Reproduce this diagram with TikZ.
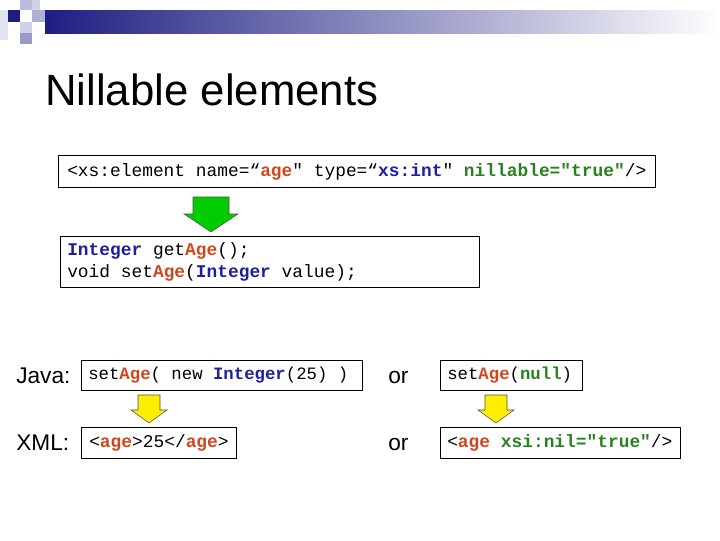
\documentclass[tikz,border=0pt]{standalone}
\usepackage{fontspec}
\setmainfont{Liberation Sans}
\setmonofont[WordSpace={1,0,0}]{Liberation Mono}
\usetikzlibrary{shapes.arrows}
\definecolor{navy}{RGB}{30,30,130}
\definecolor{ored}{RGB}{210,70,30}
\definecolor{kblue}{RGB}{30,30,160}
\definecolor{kgreen}{RGB}{40,130,30}
\newcommand{\rd}[1]{\textcolor{ored}{\textbf{#1}}}
\newcommand{\bl}[1]{\textcolor{kblue}{\textbf{#1}}}
\newcommand{\gr}[1]{\textcolor{kgreen}{\textbf{#1}}}
\tikzset{
 box/.style={draw, line width=0.6pt},
 code/.style={anchor=base west, inner sep=0pt, font=\ttfamily\fontsize{13.4}{16}\selectfont},
 codes/.style={code, font=\ttfamily\fontsize{13}{13}\selectfont},
 lbl/.style={font=\fontsize{17}{20}\selectfont, anchor=base west},
 garrow/.style={fill=green!80!black, draw=gray!60!black, line width=0.4pt},
 yarrow/.style={fill=yellow!95!orange, draw=gray!60!black, line width=0.4pt}
}
\begin{document}
\begin{tikzpicture}[x=0.75pt,y=-0.75pt]
\useasboundingbox (0,0) rectangle (720,540);
% banner
\shade[left color=navy, right color=white] (45,10) rectangle (720,33);
\fill[navy] (8,10) rectangle (20,22);
\fill[navy!30] (20,0) rectangle (32,10);
\fill[navy!20] (32,0) rectangle (40,10);
\fill[navy!35] (32,10) rectangle (45,22);
\fill[navy!20] (20,22) rectangle (32,33);
\fill[navy!45] (20,33) rectangle (32,44);
\fill[navy!12] (0,10) rectangle (8,40);
% title
\node[anchor=base west, font=\fontsize{32.8}{36}\selectfont, inner sep=0pt] (title) at (45,105) {Nillable elements};
% boxes
\draw[box] (58,155) rectangle (655,187);
\draw[box] (60,236) rectangle (479,287);
\draw[box] (81,360) rectangle (362,390);
\draw[box] (440,360) rectangle (582,390);
\draw[box] (81,427) rectangle (236,458);
\draw[box] (440,427) rectangle (680,458);
\node[code] (b1) at (67,176) {<xs:element name=“\rd{age}" type=“\bl{xs:int}" \gr{nillable="true"}/>};
\node[code] (b2a) at (67,255) {\bl{Integer} get\rd{Age}();};
\node[code] (b2b) at (67,277) {void set\rd{Age}(\bl{Integer} value);};
\node[codes] (j1) at (88,379) {set\rd{Age}( new \bl{Integer}(25) )};
\node[codes] (j2) at (447,379) {set\rd{Age}(\gr{null})};
\node[code] (x1) at (89,447) {<\rd{age}>25</\rd{age}>};
\node[code] (x2) at (447,447) {<\rd{age} \gr{xsi:nil="true"}/>};
% labels
\node[lbl, inner sep=0pt] (java) at (16,383) {Java:};
\node[lbl, inner sep=0pt] (xml) at (16,450) {XML:};
\node[lbl, inner sep=0pt] (or1) at (388,383) {or};
\node[lbl, inner sep=0pt] (or2) at (388,450) {or};
% arrows
\draw[garrow] (193,197) -- (229,197) -- (229,214) -- (238,214) -- (211,232) -- (184,214) -- (193,214) -- cycle;
\draw[yarrow] (138,395) -- (160,395) -- (160,410) -- (167,410) -- (149,423) -- (131,410) -- (138,410) -- cycle;
\draw[yarrow] (485,395) -- (507,395) -- (507,410) -- (514,410) -- (496,423) -- (478,410) -- (485,410) -- cycle;
\end{tikzpicture}
\end{document}
